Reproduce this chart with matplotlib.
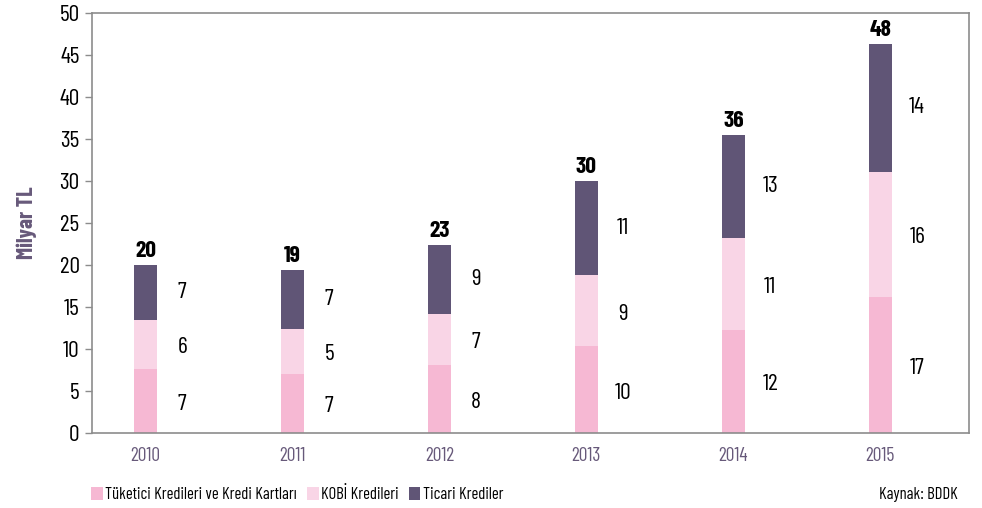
import matplotlib

matplotlib.use("Agg")
import matplotlib.pyplot as plt  # noqa: E402
import numpy as np  # noqa: E402
from matplotlib.patches import Patch  # noqa: E402

plt.rcParams["font.family"] = ["Barlow Condensed", "Liberation Sans", "DejaVu Sans"]

years = ["2010", "2011", "2012", "2013", "2014", "2015"]
# bar heights (Milyar TL)
tuketici = [7.6, 7.0, 8.1, 10.3, 12.3, 16.2]
kobi = [5.85, 5.4, 6.1, 8.5, 10.9, 14.9]
ticari = [6.55, 7.0, 8.2, 11.2, 12.3, 15.2]
# printed labels
tuketici_lbl = ["7", "7", "8", "10", "12", "17"]
kobi_lbl = ["6", "5", "7", "9", "11", "16"]
ticari_lbl = ["7", "7", "9", "11", "13", "14"]
total_lbl = ["20", "19", "23", "30", "36", "48"]

series_names = ["Tüketici Kredileri ve Kredi Kartları", "KOBİ Kredileri", "Ticari Krediler"]
colors = ["#f6b8d3", "#f9d5e6", "#605576"]
purple = "#67597a"
spine_col = "#8c8c8c"

fig = plt.figure(figsize=(9.82, 5.08), dpi=100)
ax = fig.add_axes([0.0937, 0.1476, 0.8931, 0.8268])

x = np.arange(len(years))
w = 0.156
b1 = np.array(tuketici)
b2 = b1 + np.array(kobi)
b3 = b2 + np.array(ticari)

ax.bar(x, tuketici, w, color=colors[0], zorder=2)
ax.bar(x, kobi, w, bottom=b1, color=colors[1], zorder=2)
ax.bar(x, ticari, w, bottom=b2, color=colors[2], zorder=2)

dx = 0.25
fs = 17
for i in range(len(years)):
    ax.text(x[i] + dx, b1[i] / 2 - 0.4, tuketici_lbl[i], ha="center", va="center", fontsize=fs)
    ax.text(x[i] + dx, (b1[i] + b2[i]) / 2 - 0.4, kobi_lbl[i], ha="center", va="center", fontsize=fs)
    ax.text(x[i] + dx, (b2[i] + b3[i]) / 2, ticari_lbl[i], ha="center", va="center", fontsize=fs)
    ax.annotate(total_lbl[i], (x[i], b3[i]), xytext=(0, 3), textcoords="offset points",
                ha="center", va="bottom", fontsize=fs, fontweight="bold")

ax.set_xlim(-0.363, 5.603)
ax.set_ylim(0, 50)
ax.set_yticks(range(0, 51, 5))
ax.set_xticks(x)
ax.set_xticklabels(years, color=purple, fontsize=14)
ax.tick_params(axis="x", length=0, pad=10)
ax.tick_params(axis="y", length=5, width=1, color=spine_col, labelsize=17, pad=4)
for s in ax.spines.values():
    s.set_color(spine_col)
    s.set_linewidth(1.2)
ax.set_ylabel("Milyar TL", color=purple, fontsize=16, fontweight="bold", labelpad=16)

handles = [Patch(facecolor=c, edgecolor="none") for c in colors]
fig.legend(handles, series_names, loc="center left", bbox_to_anchor=(0.086, 0.027),
           ncol=3, frameon=False, fontsize=12, handlelength=0.7, handleheight=0.9,
           handletextpad=0.15, columnspacing=0.6, borderaxespad=0)
fig.text(0.975, 0.027, "Kaynak: BDDK", ha="right", va="center", fontsize=12)

fig.savefig("out.png", dpi=100)
